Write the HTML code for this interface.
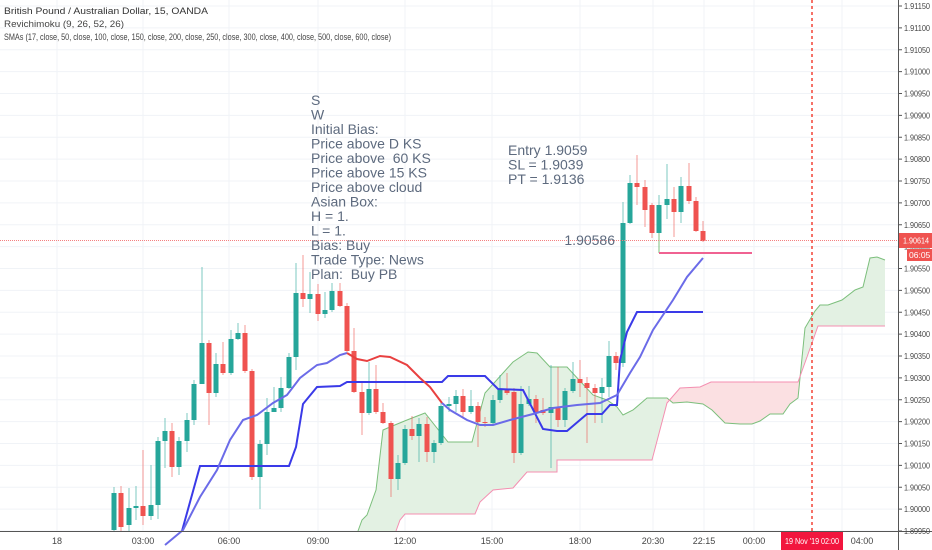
<!DOCTYPE html>
<html><head><meta charset="utf-8"><style>
body{margin:0;background:#fff;width:932px;height:550px;overflow:hidden;font-family:"Liberation Sans",sans-serif}
svg{display:block}
</style></head><body>
<svg id="c" width="932" height="550" xmlns="http://www.w3.org/2000/svg"></svg>
<script>
const s=document.getElementById('c');let h='';
for(let i=0;i<=24;i++){const y=6+i*21.875;h+=`<line x1="0" x2="898" y1="${y}" y2="${y}" stroke="#f0f3f7"/>`;}
const tx=[[57,'18'],[143,'03:00'],[229,'06:00'],[318,'09:00'],[405,'12:00'],[492,'15:00'],[580,'18:00'],[653,'20:30'],[704,'22:15'],[754,'00:00'],[842,'04:00']];
tx.forEach(t=>{h+=`<line x1="${t[0]}" x2="${t[0]}" y1="0" y2="531" stroke="#f0f3f7"/>`});
const A=[[358,531],[362,520],[367,515],[376,490],[383,430],[390,427],[407,420],[425,413],[448,442],[472,442],[485,393],[513,362],[528,352],[537,353],[550,367],[567,367],[593,395],[607,400],[617,407],[623,415],[633,410],[647,398],[667,398],[673,403],[687,402],[703,404],[712,410],[725,423],[740,424],[752,424],[760,421],[770,414],[783,414],[790,404],[798,398],[805,328],[815,311],[820,305],[828,305],[842,300],[855,290],[863,287],[870,258],[877,257],[885,260]];
const B=[[358,531],[396,531],[400,520],[405,514],[475,514],[480,502],[493,490],[513,488],[520,480],[527,472],[557,472],[557,460],[652,460],[667,403],[680,388],[700,387],[711,382],[798,382],[807,357],[818,326],[885,326]];
const pts=a=>a.map(p=>p.join(',')).join(' ');
const poly=pts(A)+' '+pts(B.slice().reverse());
h+=`<defs><clipPath id="g1"><rect x="0" y="0" width="666" height="550"/><rect x="801" y="0" width="100" height="550"/></clipPath><clipPath id="r1"><rect x="666" y="0" width="135" height="550"/></clipPath></defs>`;
h+=`<polygon points="${poly}" fill="#e3f1e3" clip-path="url(#g1)"/>`;
h+=`<polygon points="${poly}" fill="#fbe0e2" clip-path="url(#r1)"/>`;
h+=`<polyline points="${pts(A)}" fill="none" stroke="#7cbf7c" stroke-width="1"/>`;
h+=`<polyline points="${pts(B.slice(1))}" fill="none" stroke="#f48fb1" stroke-width="1"/>`;
const C=[[114,530,493,487,531],[121,493,527,486,531],[129,525,508,488,531],[136,508,506,486,520],[143,506,516,450,525],[151,516,505,465,520],[158,505,441,437,519],[165,441,431,418,468],[172,431,467,423,477],[179,467,441,437,475],[187,441,420,413,452],[194,420,384,380,425],[202,384,343,267,384],[209,343,393,340,425],[216,393,364,353,397],[223,364,373,342,375],[231,373,339,330,375],[238,339,333,323,340],[245,333,371,325,373],[252,371,477,369,480],[260,477,444,440,509],[267,444,412,398,455],[274,412,408,387,412],[281,408,388,377,412],[289,388,357,353,389],[296,357,293,263,370],[303,293,299,255,307],[310,299,294,272,313],[318,294,314,284,321],[325,314,310,292,318],[332,310,291,283,312],[340,291,306,283,307],[347,306,351,303,352],[354,351,392,328,393],[362,392,413,383,435],[369,413,389,362,415],[376,389,412,365,414],[383,412,423,403,424],[391,423,479,421,497],[398,479,463,455,490],[405,463,429,425,465],[412,429,436,416,440],[419,436,424,418,462],[427,424,452,417,462],[434,452,443,440,463],[441,443,406,402,445],[449,406,404,397,412],[456,404,396,390,412],[463,396,412,389,417],[471,412,406,390,414],[478,406,422,402,447],[485,422,423,417,427],[493,423,400,395,425],[500,400,390,375,403],[507,390,393,373,395],[514,392,453,388,463],[521,453,404,386,455],[529,404,399,386,406],[536,399,413,395,423],[543,410,413,398,415],[551,413,407,365,468],[558,407,420,367,427],[565,420,391,388,427],[573,391,379,362,393],[580,379,383,360,397],[587,383,388,377,443],[595,388,393,384,423],[602,393,387,378,423],[609,387,356,341,397],[616,356,363,352,370],[623,363,223,202,367],[630,223,183,175,224],[637,183,187,155,205],[645,187,210,180,227],[652,205,233,203,238],[659,233,205,195,253],[667,205,199,164,219],[674,199,212,187,237],[681,212,186,177,223],[689,186,201,163,204],[696,201,231,197,232],[703,231,241,221,242]];
C.forEach(c=>{const up=c[2]<c[1];const col=up?'#26a69a':'#ef5350';const t=Math.min(c[1],c[2]),b=Math.max(c[1],c[2]);
h+=`<line x1="${c[0]}" x2="${c[0]}" y1="${c[3]}" y2="${c[4]}" stroke="${col}" stroke-opacity="0.6"/>`;
h+=`<rect x="${c[0]-2.5}" y="${t}" width="5" height="${Math.max(1,b-t)}" fill="${col}"/>`;});
const K=[[182,531],[200,466],[289,466],[296,447],[303,404],[317,387],[340,386],[347,382],[442,382],[448,376],[485,376],[498,389],[523,390],[543,429],[557,431],[567,431],[587,414],[602,414],[610,405],[617,405],[620,360],[627,332],[637,312],[703,312]];
h+=`<polyline points="${pts(K)}" fill="none" stroke="#3a3ae8" stroke-width="2"/>`;
const L1=[[165,545],[183,530],[200,497],[217,470],[230,440],[243,420],[257,415],[273,403],[287,395],[300,378],[317,365],[327,363],[340,355],[347,353]];
const R=[[347,353],[357,359],[367,361],[380,356],[390,357],[407,365],[420,378],[430,387],[442,403]];
const L2=[[442,403],[450,410],[467,420],[480,425],[493,425],[510,420],[533,414],[553,408],[577,405],[600,403],[617,395],[630,373],[640,357],[653,330],[673,300],[687,277],[703,258]];
h+=`<polyline points="${pts(L1)}" fill="none" stroke="#6b6be8" stroke-width="2"/>`;
h+=`<polyline points="${pts(R)}" fill="none" stroke="#e84040" stroke-width="2"/>`;
h+=`<polyline points="${pts(L2)}" fill="none" stroke="#6b6be8" stroke-width="2"/>`;
h+=`<line x1="659" x2="659" y1="233" y2="253" stroke="#7cbf7c"/><line x1="659" x2="752" y1="253" y2="253" stroke="#f06292" stroke-width="2"/>`;
h+=`<line x1="0" x2="898" y1="240.5" y2="240.5" stroke="#f48080" stroke-dasharray="1,1"/>`;
h+=`<line x1="812" x2="812" y1="0" y2="531" stroke="#f44336" stroke-width="1.5" stroke-dasharray="3,3"/>`;
h+=`<line x1="898.5" x2="898.5" y1="0" y2="550" stroke="#555"/><line x1="0" x2="932" y1="531.5" y2="531.5" stroke="#555"/>`;
for(let i=0;i<=24;i++){const y=6+i*21.875;const p=(1.9115-i*0.0005).toFixed(5);
h+=`<line x1="898" x2="902" y1="${y}" y2="${y}" stroke="#555"/><text x="904" y="${y+3}" font-size="8.5" fill="#444" textLength="26" lengthAdjust="spacingAndGlyphs">${p}</text>`;}
h+=`<rect x="899" y="233" width="33" height="15" fill="#ef5350"/><text x="903" y="243.5" font-size="8.5" fill="#fff" textLength="26" lengthAdjust="spacingAndGlyphs">1.90614</text>`;
h+=`<rect x="907" y="249" width="25" height="12" fill="#ef5350"/><text x="909" y="258" font-size="8.5" fill="#fff">06:05</text>`;
tx.forEach(t=>{if(t[0]<800)h+=`<text x="${t[0]}" y="544" font-size="9" fill="#444" text-anchor="middle">${t[1]}</text>`});
h+=`<text x="862" y="544" font-size="9" fill="#444" text-anchor="middle">04:00</text>`;
h+=`<rect x="781" y="532" width="62" height="18" fill="#f2163e"/><text x="785" y="544" font-size="8.5" fill="#fff" textLength="54" lengthAdjust="spacingAndGlyphs">19 Nov '19   02:00</text>`;
h+=`<text x="4" y="14" font-size="9" fill="#333" textLength="204" lengthAdjust="spacingAndGlyphs">British Pound / Australian Dollar, 15, OANDA</text>`;
h+=`<text x="4" y="27" font-size="9" fill="#444" textLength="120" lengthAdjust="spacingAndGlyphs">Revichimoku (9, 26, 52, 26)</text>`;
h+=`<text x="4" y="40" font-size="9" fill="#444" textLength="387" lengthAdjust="spacingAndGlyphs">SMAs (17, close, 50, close, 100, close, 150, close, 200, close, 250, close, 300, close, 400, close, 500, close, 600, close)</text>`;
const tl=['S','W','Initial Bias:','Price above D KS','Price above  60 KS','Price above 15 KS','Price above cloud','Asian Box:','H = 1.','L = 1.','Bias: Buy','Trade Type: News','Plan:  Buy PB'];
tl.forEach((t,i)=>{h+=`<text x="311" y="${105+i*14.5}" font-size="14" fill="#5d6a7e" xml:space="preserve">${t}</text>`});
['Entry 1.9059','SL = 1.9039','PT = 1.9136'].forEach((t,i)=>{h+=`<text x="508" y="${155+i*14.5}" font-size="14" fill="#5d6a7e">${t}</text>`});
h+=`<text x="615" y="245" font-size="14" fill="#5d6a7e" text-anchor="end">1.90586</text>`;
s.innerHTML=h;
</script>
</body></html>
